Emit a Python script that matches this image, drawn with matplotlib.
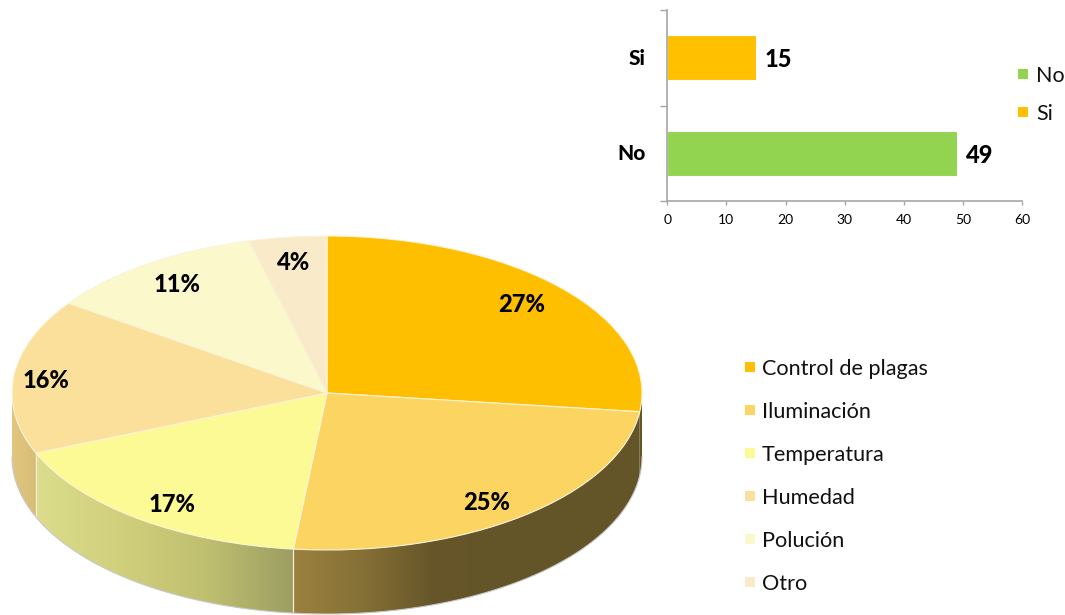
import numpy as np
import matplotlib
matplotlib.use('Agg')
import matplotlib.pyplot as plt
from matplotlib.colors import LinearSegmentedColormap
from matplotlib.patches import Polygon

plt.rcParams['font.family'] = ['Lato', 'DejaVu Sans']

# pie data
pie_labels = ['Control de plagas', 'Iluminación', 'Temperatura', 'Humedad', 'Polución', 'Otro']
pie_values = [26.9, 24.8, 17.05, 15.95, 11.3, 4.0]
pie_colors = ['#FDBF00', '#FCD462', '#FBFA94', '#FAE09A', '#FBF9CB', '#F9EBC9']

# bar data
bar_labels = ['No', 'Si']
bar_values = [49, 15]
bar_colors = ['#92D350', '#FFC000']
bar_ticks = [0, 10, 20, 30, 40, 50, 60]

W, H = 1065, 615
CX, CY, RX, RY = 327, 393, 315, 157   # pie ellipse, pixels
DEPTH = 64 / RY

fig = plt.figure(figsize=(W / 100, H / 100), dpi=100)

# whole figure axes, unit circle = pie outline
ax = fig.add_axes([0, 0, 1, 1])
wedges, _, autotexts = ax.pie(pie_values, colors=pie_colors, startangle=90, counterclock=False,
                              radius=1, autopct='%.0f%%',
                              wedgeprops=dict(edgecolor='#FBF3D8', linewidth=0.8, zorder=5),
                              textprops=dict(zorder=6))
ax.set_aspect('auto')
xlim = ((0 - CX) / RX, (W - CX) / RX)
ylim = ((CY - H) / RY, CY / RY)

# side of the cake, gradient per slice (only the front part is visible)
side_stops = [
    ['#655528', '#655528', '#7A6228'],
    ['#9C8140', '#857035', '#66562A', '#645528', '#645528', '#645528'],
    ['#DCDD8C', '#CFCF7C', '#BFBF70', '#9C9E62'],
    ['#E0C67E', '#D8BD78'],
]
edges = np.cumsum([0] + pie_values) / sum(pie_values) * 2 * np.pi
for i in range(4):
    a = np.linspace(max(edges[i], np.pi / 2), min(edges[i + 1], 3 * np.pi / 2), 100)
    sx, sy = np.sin(a), np.cos(a)
    poly = np.vstack([np.column_stack([sx, sy]), np.column_stack([sx, sy - DEPTH])[::-1]])
    cmap = LinearSegmentedColormap.from_list('side%d' % i, side_stops[i])
    ext = [sx.min(), sx.max(), (sy - DEPTH).min(), sy.max()]
    im = ax.imshow(np.linspace(0, 1, 256)[None, :], extent=ext, cmap=cmap, aspect='auto', zorder=2)
    im.set_clip_path(Polygon(poly, transform=ax.transData))
    if i in (2, 3):
        ax.plot([sx[0]] * 2, [sy[0], sy[0] - DEPTH], color='#F3EFD8', lw=0.9, zorder=3)

# thin grey outline under the cake
a = np.linspace(np.pi / 2, 3 * np.pi / 2, 200)
ax.plot(np.sin(a), np.cos(a) - DEPTH, color='#C8C8C8', lw=0.8, zorder=3)
ax.set_xlim(xlim)
ax.set_ylim(ylim)

# percent labels, pixel centres
label_pos = [(522, 304.5), (487, 502.5), (172, 504.5), (46, 381), (177, 285), (294, 262.5)]
for t, (px, py) in zip(autotexts, label_pos):
    t.set_position(((px - CX) / RX, (CY - py) / RY))
    t.set_fontsize(17)
    t.set_fontweight('black')
    t.set_color('black')

# pie legend
leg = fig.add_axes([0, 0, 1, 1])
leg.set_xlim(0, W)
leg.set_ylim(H, 0)
leg.axis('off')
for i, name in enumerate(pie_labels):
    y = 367 + 43 * i
    leg.plot(749.5, y, 's', ms=7.5, mew=0, color=pie_colors[i])
    leg.text(762, y, name, fontsize=15.6, va='center_baseline', color='#111111')

# bars legend
for i, name in enumerate(bar_labels):
    y = 74 + 38 * i
    leg.plot(1022.5, y, 's', ms=7.5, mew=0, color=bar_colors[i])
    leg.text(1036, y, name, fontsize=15.5, va='center_baseline', color='#111111')

# bar chart
bx0, bx1 = 667.3, 1022
by0, by1 = 10, 201
bar = fig.add_axes([bx0 / W, 1 - by1 / H, (bx1 - bx0) / W, (by1 - by0) / H])
bar.patch.set_alpha(0)
bar.barh([0, 1], bar_values, height=0.47, color=bar_colors, edgecolor='white', linewidth=0.8)
bar.set_xlim(0, 60)
bar.set_ylim(-0.5, 1.5)
bar.set_xticks(bar_ticks)
bar.set_yticks([-0.5, 0.5, 1.5])
bar.set_yticklabels([])
bar.tick_params(axis='x', length=3, width=1, color='#A6A6A6', labelsize=10, pad=6)
bar.tick_params(axis='y', length=5, width=1, color='#A6A6A6')
bar.spines[['top', 'right']].set_visible(False)
bar.spines[['left', 'bottom']].set_color('#A6A6A6')
bar.spines[['left', 'bottom']].set_linewidth(1.2)
for i, v in enumerate(bar_values):
    bar.text(v + 1.5, i, str(v), fontsize=17, fontweight='black', va='center_baseline')
    bar.text(-3.7, i + 0.01, bar_labels[i], fontsize=15, fontweight='black', va='center_baseline', ha='right')

fig.savefig('out.png', dpi=100)
